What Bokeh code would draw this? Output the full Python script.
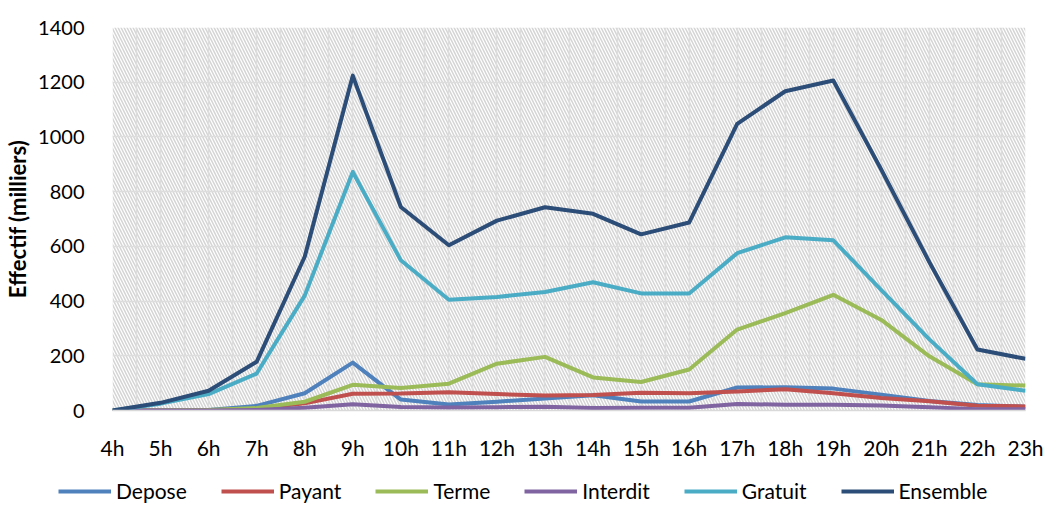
from bokeh.plotting import figure
from bokeh.models import Range1d, FixedTicker, Legend, LegendItem
from bokeh.embed import file_html
from bokeh.resources import INLINE

hours = ["4h", "5h", "6h", "7h", "8h", "9h", "10h", "11h", "12h", "13h",
         "14h", "15h", "16h", "17h", "18h", "19h", "20h", "21h", "22h", "23h"]
depose   = [0, 0, 2, 17, 63, 175, 40, 22, 32, 44, 56, 33, 33, 84, 85, 80, 58, 35, 20, 14]
payant   = [0, 0, 1, 6, 26, 61, 62, 67, 60, 55, 57, 65, 63, 69, 78, 63, 46, 34, 17, 15]
terme    = [0, 0, 2, 9, 32, 94, 82, 98, 171, 196, 121, 104, 150, 296, 356, 423, 331, 198, 96, 91]
interdit = [0, 0, 0, 2, 10, 23, 13, 11, 12, 14, 9, 10, 10, 24, 21, 21, 18, 12, 5, 5]
gratuit  = [0, 25, 60, 135, 420, 872, 549, 405, 415, 433, 469, 428, 428, 575, 633, 622, 440, 260, 96, 72]
ensemble = [0, 28, 72, 178, 562, 1224, 744, 604, 694, 743, 719, 644, 687, 1048, 1167, 1206, 880, 542, 223, 189]

series = [("Depose", depose, "#4F81BD"), ("Payant", payant, "#C0504D"),
          ("Terme", terme, "#9BBB59"), ("Interdit", interdit, "#8064A2"),
          ("Gratuit", gratuit, "#4BACC6"), ("Ensemble", ensemble, "#2C4D77")]

x = list(range(len(hours)))
FONT = "Lato"

p = figure(width=1046, height=462, output_backend="svg", toolbar_location=None,
           x_range=Range1d(0, len(hours) - 1), y_range=Range1d(0, 1400),
           min_border_left=112, min_border_right=21, min_border_top=27, min_border_bottom=51)
p.outline_line_color = None
p.background_fill_color = "white"

# hatched plot area
p.quad(left=[0], right=[len(hours) - 1], bottom=[0], top=[1400],
       fill_color="white", line_color=None, hatch_pattern="\\",
       hatch_color="#d4d4d4", hatch_scale=6, hatch_weight=1.5, level="image")

xt = FixedTicker(ticks=x, minor_ticks=[i + 0.5 for i in x[:-1]])
p.xaxis.ticker = xt
p.xgrid.ticker = xt
p.xaxis.major_label_overrides = {i: h for i, h in enumerate(hours)}
p.yaxis.ticker = FixedTicker(ticks=list(range(0, 1401, 200)))

for g in (p.xgrid, p.ygrid):
    g.grid_line_color = "#dddddd"
    g.grid_line_width = 1.5
p.xgrid.minor_grid_line_color = "#dddddd"
p.xgrid.minor_grid_line_width = 1.5

for ax in (p.xaxis, p.yaxis):
    ax.major_tick_line_color = None
    ax.minor_tick_line_color = None
    ax.major_label_text_font = FONT
    ax.major_label_text_font_size = "20px"
    ax.major_label_text_color = "#000000"
p.xaxis.major_label_text_font_size = "21px"
p.xaxis.axis_line_color = "#d9d9d9"
p.xaxis.axis_line_width = 1.5
p.yaxis.axis_line_color = None
p.xaxis.major_label_standoff = 18
p.yaxis.major_label_standoff = 22
p.yaxis.axis_label = "Effectif (milliers)"
p.yaxis.axis_label_text_font = FONT
p.yaxis.axis_label_text_font_style = "bold"
p.yaxis.axis_label_text_font_size = "22px"
p.yaxis.axis_label_text_color = "#000000"
p.yaxis.axis_label_standoff = 4

for name, vals, col in series:
    p.line(x, vals, line_color=col, line_width=4, line_join="round")

# legend strip below the chart (its lines fall outside its visible range)
lg = figure(width=1046, height=43, output_backend="svg", toolbar_location=None,
            x_range=Range1d(0, 1), y_range=Range1d(-1000, -999),
            min_border_left=0, min_border_right=0, min_border_top=0, min_border_bottom=0,
            x_axis_type=None, y_axis_type=None)
lg.outline_line_color = None
lg.xgrid.visible = False
lg.ygrid.visible = False
items = []
for name, vals, col in series:
    r = lg.line(x, vals, line_color=col, line_width=4)
    items.append(LegendItem(label=name, renderers=[r]))
legend = Legend(items=items, orientation="horizontal", location=(58, 2),
                glyph_width=53, glyph_height=20, label_standoff=5, spacing=34,
                padding=0, margin=0, border_line_color=None, background_fill_alpha=0,
                label_text_font=FONT, label_text_font_size="21px", label_text_color="#000000",
                label_height=20)
lg.add_layout(legend, "center")

open("out.html", "w").write(file_html([p, lg], INLINE))
